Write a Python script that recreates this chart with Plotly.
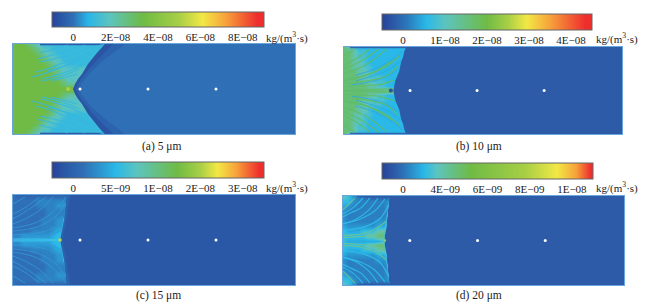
import plotly.graph_objects as go

W, H = 646, 305
SERIF = "Liberation Serif"

tick_vals = [0.1, 0.3, 0.5, 0.7, 0.9]
labels_a = ["0", "2E−08", "4E−08", "6E−08", "8E−08"]
labels_b = ["0", "1E−08", "2E−08", "3E−08", "4E−08"]
labels_c = ["0", "5E−09", "1E−08", "2E−08", "3E−08"]
labels_d = ["0", "4E−09", "6E−09", "8E−09", "1E−08"]

scale_a = [[0, "#27429a"], [.05, "#2a5aa8"], [.10, "#2f6fb5"], [.17, "#29b5e8"], [.27, "#5cc4c0"], [.43, "#6fbb45"],
           [.60, "#a8cf45"], [.71, "#f2e845"], [.82, "#f7a23a"], [.97, "#ee2d2d"], [1, "#ee2d2d"]]
scale_b = [[0, "#27429a"], [.06, "#2d5ba8"], [.12, "#2b78bb"], [.21, "#29b8e8"], [.30, "#5cc4c0"], [.50, "#6fbb45"],
           [.60, "#a8cf45"], [.69, "#f2e845"], [.80, "#f7a23a"], [.97, "#ee2d2d"], [1, "#ee2d2d"]]
scale_c = [[0, "#27429a"], [.06, "#2b58a6"], [.15, "#2f6fb5"], [.30, "#29b8e8"], [.40, "#5cc4c0"], [.59, "#6fbb45"],
           [.70, "#a8cf45"], [.78, "#f2e845"], [.87, "#f7a23a"], [.98, "#ee2d2d"], [1, "#ee2d2d"]]
scale_d = [[0, "#27429a"], [.06, "#2d5ba8"], [.11, "#2b78bb"], [.20, "#29b8e8"], [.26, "#5cc4c0"], [.42, "#6fbb45"],
           [.68, "#a8cf45"], [.83, "#f2e845"], [.92, "#f7a23a"], [.99, "#ee2d2d"], [1, "#ee2d2d"]]

# digit in a field row -> value on the colour bar (0..1)
levels_a = [.03, .10, .14, .17, .20, .26, .33, .38, .43, .48]
levels_b = [.03, .06, .12, .17, .21, .26, .33, .42, .50, .55]
levels_c = [.03, .06, .11, .15, .19, .23, .27, .32, .45, .59]
levels_d = [.03, .06, .09, .12, .15, .18, .22, .28, .36, .42]

channel_length = 282
grid_step = 5
half_height = 45
wall_d = [45, 40, 35, 30, 25, 20, 15, 10, 5, 0]

# rows from wall (45) to axis (0), every 5 units; columns every 5 units; last digit continues to the right
field_a = ["8887654444",
           "88887655444",
           "888887655444",
           "8888887655444",
           "8888888765544",
           "88888888765",
           "888888887655",
           "8888888887655",
           "88888888887665",
           "88888888888996"]
field_b = ["7654444",
           "7765544444",
           "7765544444",
           "7766544444",
           "77665544444",
           "77766544444",
           "77766555444",
           "77776655544",
           "77777665544",
           "7777777777"]
field_c = ["3222222222",
           "3333344444",
           "3333344445",
           "3333333444",
           "3333333444",
           "3333334445",
           "3333334445",
           "3333444456",
           "4455555567",
           "5566666677"]
field_d = ["7643211111",
           "6643333334",
           "5433333334",
           "4333333334",
           "4333333334",
           "4333333445",
           "5444444556",
           "6555666777",
           "6666677888",
           "6555555566"]

front_a = [92, 87, 83, 79, 75, 72, 69, 65, 62, 60]
band1_a = [100, 95, 90, 85, 80, 76, 72, 68, 65, 63]
band2_a = [112, 106, 99, 92, 86, 81, 76, 72, 68, 66]
front_b = [63, 61, 60, 58, 57, 56, 54, 52, 51, 50]
band1_b = [64, 62, 61, 59, 58, 57, 55, 53, 52, 51]
band2_b = [65, 63, 62, 60, 59, 58, 56, 54, 53, 52]
front_c = [54, 53, 53, 52, 52, 51, 50, 49, 48, 47]
band1_c = [57, 56, 55, 54, 54, 53, 52, 51, 50, 49]
band2_c = [59, 58, 57, 56, 55, 54, 53, 52, 51, 50]
front_d = [47, 46, 46, 45, 45, 44, 44, 43, 42, 42]
band1_d = [48, 47, 47, 46, 46, 45, 45, 44, 43, 43]
band2_d = [49, 48, 48, 47, 47, 46, 46, 45, 44, 44]

dot_x = [67, 135, 203]
dot_y = [0, 0, 0]

# streak groups: (colour, width, [(x list, distance-from-axis list), ...]), drawn on both sides of the axis
streaks_a = [("#2f4f9f", 1.5, [([27, 55, 92], [44.6, 44.6, 44.6])]),
             ("#36b8e0", 1.2, [([86, 70, 50, 34, 22], [42, 34, 26, 20, 17]),
                               ([78, 62, 44, 30, 18], [35, 27, 20, 15, 12]),
                               ([70, 56, 40, 28], [25, 18, 13, 10]),
                               ([64, 50, 38], [15, 11, 8]),
                               ([92, 74, 56, 36, 26], [45, 40, 34, 29, 27]),
                               ([72, 54, 36, 24], [44, 38, 33, 30]),
                               ([55, 38, 26], [44, 39, 36]),
                               ([82, 66, 48, 34], [38, 30, 22, 18]),
                               ([66, 52, 38, 28], [20, 14, 10, 8])])]
streaks_b = [("#2f5ba8", 1.5, [([6, 30, 63], [44.6, 44.6, 44.6])]),
             ("#2ea6e0", 0.9, [([60, 46, 28, 12], [41, 30, 21, 16]),
                               ([54, 40, 22, 8], [21, 13, 8, 6]),
                               ([58, 42, 26, 12], [31, 20, 14, 10])]),
             ("#5fbd6c", 1.2, [([51, 36, 16, 0], [11, 6, 5, 4]),
                               ([54, 43, 23, 0], [25, 15, 10, 7]),
                               ([56, 43, 23, 0], [36, 25, 16, 12]),
                               ([43, 29, 13, 0], [43, 31, 22, 18]),
                               ([26, 13, 0], [43, 33, 26]),
                               ([11, 0], [43, 36]),
                               ([35, 20, 0], [43, 32, 22]),
                               ([48, 30, 14, 0], [30, 19, 13, 10]),
                               ([50, 30, 0], [2, 1, 1])])]
streaks_c = [("#3597dc", 0.9, [([49, 37, 17, 0], [10, 5, 2, 1]),
                               ([50, 42, 24, 0], [24, 13, 7, 5]),
                               ([52, 43, 24, 0], [36, 24, 13, 9]),
                               ([53, 40, 22, 0], [43, 28, 17, 12]),
                               ([40, 27, 12, 0], [43, 30, 21, 16]),
                               ([26, 13, 0], [43, 33, 26]),
                               ([33, 18, 0], [43, 32, 21]),
                               ([12, 0], [43, 36])]),
             ("#3dc0ea", 1.2, [([0, 25, 47], [0.8, 0.8, 0.2]), ([51, 49, 47], [22, 10, 1])])]
streaks_d = [("#2f5ba8", 1.5, [([14, 30, 47], [44.6, 44.6, 44.6])]),
             ("#2fbcea", 1.2, [([46, 37, 22, 0], [37, 22, 14, 10]),
                               ([42, 32, 18, 0], [42, 30, 22, 17]),
                               ([35, 25, 12, 0], [43, 30, 21, 17]),
                               ([27, 18, 8, 0], [43, 33, 28, 24]),
                               ([20, 10, 0], [43, 33, 27]),
                               ([9, 0], [43, 37])]),
             ("#6fc48e", 1.1, [([44, 32, 17, 1], [11, 6, 4, 3]),
                               ([44, 33, 20, 0], [20, 12, 7, 5]),
                               ([12, 0], [43, 31])]),
             ("#47c6ea", 1.4, [([47, 45, 43, 42], [43, 28, 12, 3])])]

panels = [
    dict(box=(13, 295, 44, 134), bar=(52, 264, 12, 27), labels=labels_a, scale=scale_a, levels=levels_a,
         field=field_a, front=front_a, band1=band1_a, band2=band2_a, streaks=streaks_a,
         fills=("#2b55a4", "#2c63ae", "#2f6fb5"), spot=(55, "#a8cf45", 4),
         caption="(a) 5 μm", cap=(161, 146), unit=(264, 37)),
    dict(box=(344, 622, 47, 134), bar=(382, 592, 14, 30), labels=labels_b, scale=scale_b, levels=levels_b,
         field=field_b, front=front_b, band1=band1_b, band2=band2_b, streaks=streaks_b,
         fills=("#2d60ac", "#2d5ba8", "#2d5ba8"), spot=(47.5, "#2a55a8", 4),
         caption="(b) 10 μm", cap=(479, 146), unit=(594, 39)),
    dict(box=(13, 295, 195, 285), bar=(52, 264, 162, 178), labels=labels_c, scale=scale_c, levels=levels_c,
         field=field_c, front=front_c, band1=band1_c, band2=band2_c, streaks=streaks_c,
         fills=("#2b64b0", "#2b5aa8", "#2b58a6"), spot=(47, "#b5d84a", 3.5),
         caption="(c) 15 μm", cap=(158, 295), unit=(264, 187)),
    dict(box=(343, 624, 196, 285), bar=(382, 593, 163, 179), labels=labels_d, scale=scale_d, levels=levels_d,
         field=field_d, front=front_d, band1=band1_d, band2=band2_d, streaks=streaks_d,
         fills=("#2d60ac", "#2d5ba8", "#2d5ba8"), spot=(42, "#8ccf70", 2.5),
         caption="(d) 20 μm", cap=(479, 295), unit=(594, 187)),
]

fig = go.Figure()
layout = dict(width=W, height=H, margin=dict(l=0, r=0, t=0, b=0), paper_bgcolor="white", plot_bgcolor="white",
              showlegend=False, annotations=[])

for i, p in enumerate(panels):
    n = "" if i == 0 else str(i + 1)
    x0, x1, y0, y1 = p["box"]
    bx0, bx1, by0, by1 = p["bar"]
    axes = dict(xaxis="x" + n, yaxis="y" + n, hoverinfo="skip")
    layout["xaxis" + n] = dict(domain=[x0 / W, x1 / W], range=[0, channel_length], showticklabels=False,
                               ticks="", showgrid=False, zeroline=False, showline=True, mirror=True,
                               linecolor="#6aa6dc", linewidth=1, anchor="y" + n)
    layout["yaxis" + n] = dict(domain=[1 - y1 / H, 1 - y0 / H], range=[-half_height, half_height], showticklabels=False,
                               ticks="", showgrid=False, zeroline=False, showline=True, mirror=True,
                               linecolor="#6aa6dc", linewidth=1, anchor="x" + n)
    rows = p["field"] + p["field"][-2::-1]
    cols = [grid_step * k for k in range(26)] + [channel_length]
    z = [[p["levels"][int(c)] for c in r.ljust(27, r[-1])] for r in rows]
    ys = [half_height - grid_step * k for k in range(len(rows))]
    fig.add_trace(go.Heatmap(
        x=cols, y=ys, z=z, zmin=0, zmax=1, zsmooth="best", colorscale=p["scale"], **axes,
        colorbar=dict(orientation="h", thickness=by1 - by0, thicknessmode="pixels", len=bx1 - bx0, lenmode="pixels",
                      x=bx0 / W, xanchor="left", y=1 - by0 / H, yanchor="top", xpad=0, ypad=0,
                      tickvals=tick_vals, ticktext=p["labels"], ticks="", outlinecolor="#666666", outlinewidth=1,
                      borderwidth=0, tickfont=dict(family=SERIF, size=11, color="#222222"))))
    for color, width, lines in p["streaks"]:
        for xs, ds in lines:
            for sign in (1, -1):
                fig.add_trace(go.Scatter(x=xs, y=[sign * d for d in ds], mode="lines", opacity=0.9,
                                         line=dict(color=color, width=width, shape="spline"), **axes))
    # blue regions to the right of the deposition front, outermost drawn last
    for key, fill in zip(("front", "band1", "band2"), p["fills"]):
        edge = p[key]
        poly_x = edge + edge[-2::-1] + [channel_length, channel_length]
        poly_y = wall_d + [-d for d in wall_d[-2::-1]] + [-half_height, half_height]
        fig.add_trace(go.Scatter(x=poly_x, y=poly_y, mode="lines", fill="toself", fillcolor=fill,
                                 line=dict(width=0, color=fill), **axes))
    spot_x, spot_color, spot_size = p["spot"]
    fig.add_trace(go.Scatter(x=[spot_x], y=[0], mode="markers", marker=dict(color=spot_color, size=spot_size, line=dict(width=0)), **axes))
    fig.add_trace(go.Scatter(x=dot_x, y=dot_y, mode="markers", marker=dict(color="white", size=3, line=dict(width=0)), **axes))
    layout["annotations"].append(dict(text=p["caption"], x=p["cap"][0] / W, y=1 - p["cap"][1] / H, xref="paper", yref="paper",
                                      showarrow=False, xanchor="center", yanchor="middle",
                                      font=dict(family=SERIF, size=11.5, color="#222222")))
    layout["annotations"].append(dict(text="kg/(m<sup>3</sup>·s)", x=p["unit"][0] / W, y=1 - p["unit"][1] / H, xref="paper", yref="paper",
                                      showarrow=False, xanchor="left", yanchor="middle",
                                      font=dict(family=SERIF, size=11, color="#222222")))

fig.update_layout(**layout)
fig.write_html("out.html", config=dict(displayModeBar=False),
               post_script="document.body.style.margin='0';")
